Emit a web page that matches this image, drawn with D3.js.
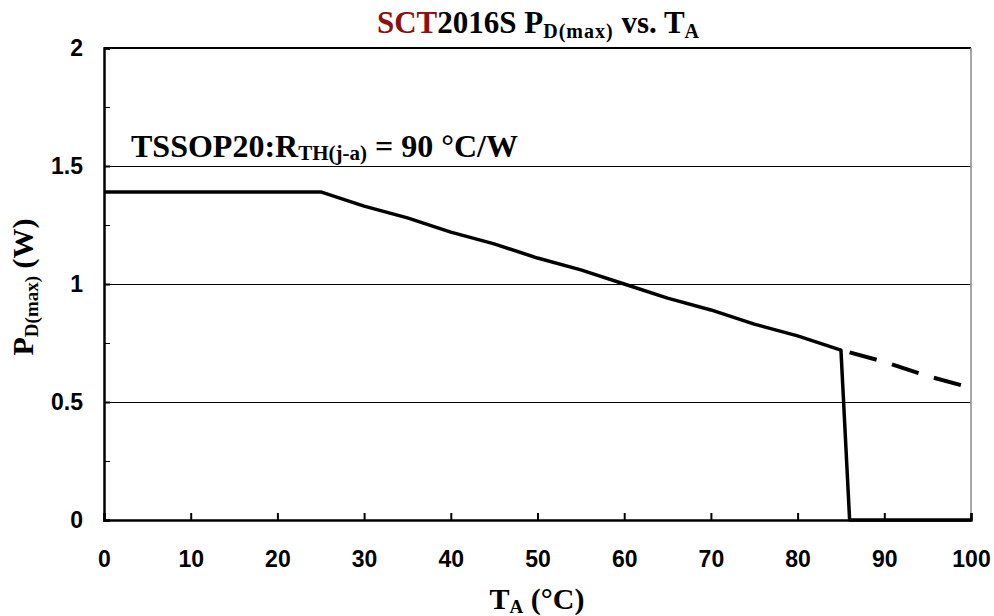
<!DOCTYPE html>
<html>
<head>
<meta charset="utf-8">
<script src="https://cdn.jsdelivr.net/npm/d3@7"></script>
<style>
  body { margin: 0; background: #fff; }
  .tick text { font-family: Arial, "Liberation Sans", sans-serif; font-weight: bold; font-size: 23px; }
  .serif { font-family: "Times New Roman", "Liberation Serif", serif; font-weight: bold; }
</style>
</head>
<body>
<div id="chart"></div>
<script>
// chart values
var tempSolid = [0, 5, 10, 15, 20, 25, 30, 35, 40, 45, 50, 55, 60, 65, 70, 75, 80, 85, 86, 100];
var powerSolid = [1.39, 1.39, 1.39, 1.39, 1.39, 1.39, 1.33, 1.28, 1.22, 1.17, 1.11, 1.06, 1.0, 0.94, 0.89, 0.83, 0.78, 0.72, 0, 0];
var tempDash = [86, 90, 95, 100];
var powerDash = [0.71, 0.67, 0.61, 0.56];
var xTicks = [0, 10, 20, 30, 40, 50, 60, 70, 80, 90, 100];
var yTicks = [0, 0.5, 1, 1.5, 2];
var yMinor = [0.25, 0.75, 1.25, 1.75];

var svgWidth = 994;
var svgHeight = 616;
var margin = { top: 48, right: 23, bottom: 96, left: 104 };
var width = svgWidth - margin.left - margin.right;
var height = svgHeight - margin.top - margin.bottom;

var svg = d3.select("#chart").append("svg")
  .attr("width", svgWidth)
  .attr("height", svgHeight);

var chartGroup = svg.append("g")
  .attr("transform", `translate(${margin.left}, ${margin.top})`);

var x = d3.scaleLinear().domain([0, 100]).range([0, width]);
var y = d3.scaleLinear().domain([0, 2]).range([height, 0]);

// gridlines
chartGroup.selectAll(".grid")
  .data([0.5, 1, 1.5])
  .enter().append("line")
  .attr("x1", 0).attr("x2", width)
  .attr("y1", d => Math.round(y(d)) + 0.5).attr("y2", d => Math.round(y(d)) + 0.5)
  .attr("stroke", "#000").attr("stroke-width", 1)
  .attr("shape-rendering", "crispEdges");

// frame: top black, right grey
chartGroup.append("line")
  .attr("x1", 0).attr("x2", width).attr("y1", 0).attr("y2", 0)
  .attr("stroke", "#000").attr("stroke-width", 2);
chartGroup.append("line")
  .attr("x1", width).attr("x2", width).attr("y1", 0).attr("y2", height)
  .attr("stroke", "#888").attr("stroke-width", 1.5);

// axes with inward ticks
var leftAxis = d3.axisLeft(y).tickValues(yTicks).tickSize(-6).tickPadding(21)
  .tickFormat(d => d3.format("")(d));
var yAxis = chartGroup.append("g").call(leftAxis);
chartGroup.append("g")
  .call(d3.axisLeft(y).tickValues(yMinor).tickSize(-6).tickFormat(""))
  .select(".domain").remove();

var bottomAxis = d3.axisBottom(x).tickValues(xTicks).tickSize(-7).tickPadding(31);
var xAxis = chartGroup.append("g")
  .attr("transform", `translate(0, ${height})`)
  .call(bottomAxis);

[yAxis, xAxis].forEach(function(a) {
  a.select(".domain").attr("stroke-width", 2.5);
  a.selectAll(".tick line").attr("stroke-width", 2);
  a.selectAll(".tick text").attr("fill", "#000");
});
chartGroup.selectAll(".domain").attr("stroke", "#000");

// curves
var line = d3.line().x(d => x(d[0])).y(d => y(d[1]));
var solidData = tempSolid.map((t, i) => [t, powerSolid[i]]);
var dashData = tempDash.map((t, i) => [t, powerDash[i]]);

chartGroup.append("path")
  .datum(solidData)
  .attr("d", line)
  .attr("fill", "none")
  .attr("stroke", "#000")
  .attr("stroke-width", 3.5)
  .attr("stroke-linejoin", "round");

chartGroup.append("path")
  .datum(dashData)
  .attr("d", line)
  .attr("fill", "none")
  .attr("stroke", "#000")
  .attr("stroke-width", 4)
  .attr("stroke-dasharray", "28,16");

// annotation
var note = chartGroup.append("text")
  .attr("class", "serif")
  .attr("x", 27)
  .attr("y", 109)
  .attr("font-size", 32);
note.append("tspan").text("TSSOP20:R");
note.append("tspan").attr("font-size", 21).attr("dy", 3).text("TH(j-a)");
note.append("tspan").attr("dy", -3).text(" = 90 °C/W");

// title
var title = svg.append("text")
  .attr("class", "serif")
  .attr("x", 538)
  .attr("y", 33)
  .attr("text-anchor", "middle")
  .attr("font-size", 31);
title.append("tspan").attr("fill", "#8b1010").text("SCT");
title.append("tspan").text("2016S P");
title.append("tspan").attr("font-size", 20).attr("dy", 5).attr("letter-spacing", 1).text("D(max)");
title.append("tspan").attr("dy", -5).text(" vs. T");
title.append("tspan").attr("font-size", 20).attr("dy", 5).text("A");

// x axis title
var xLabel = svg.append("text")
  .attr("class", "serif")
  .attr("x", 537)
  .attr("y", 609)
  .attr("text-anchor", "middle")
  .attr("font-size", 30);
xLabel.append("tspan").text("T");
xLabel.append("tspan").attr("font-size", 19).attr("dy", 4).text("A");
xLabel.append("tspan").attr("dy", -4).text(" (°C)");

// y axis title
var yLabel = svg.append("text")
  .attr("class", "serif")
  .attr("transform", `translate(33, 287) rotate(-90)`)
  .attr("text-anchor", "middle")
  .attr("font-size", 30);
yLabel.append("tspan").text("P");
yLabel.append("tspan").attr("font-size", 19).attr("dy", 5).text("D(max)");
yLabel.append("tspan").attr("dy", -5).text(" (W)");
</script>
</body>
</html>
